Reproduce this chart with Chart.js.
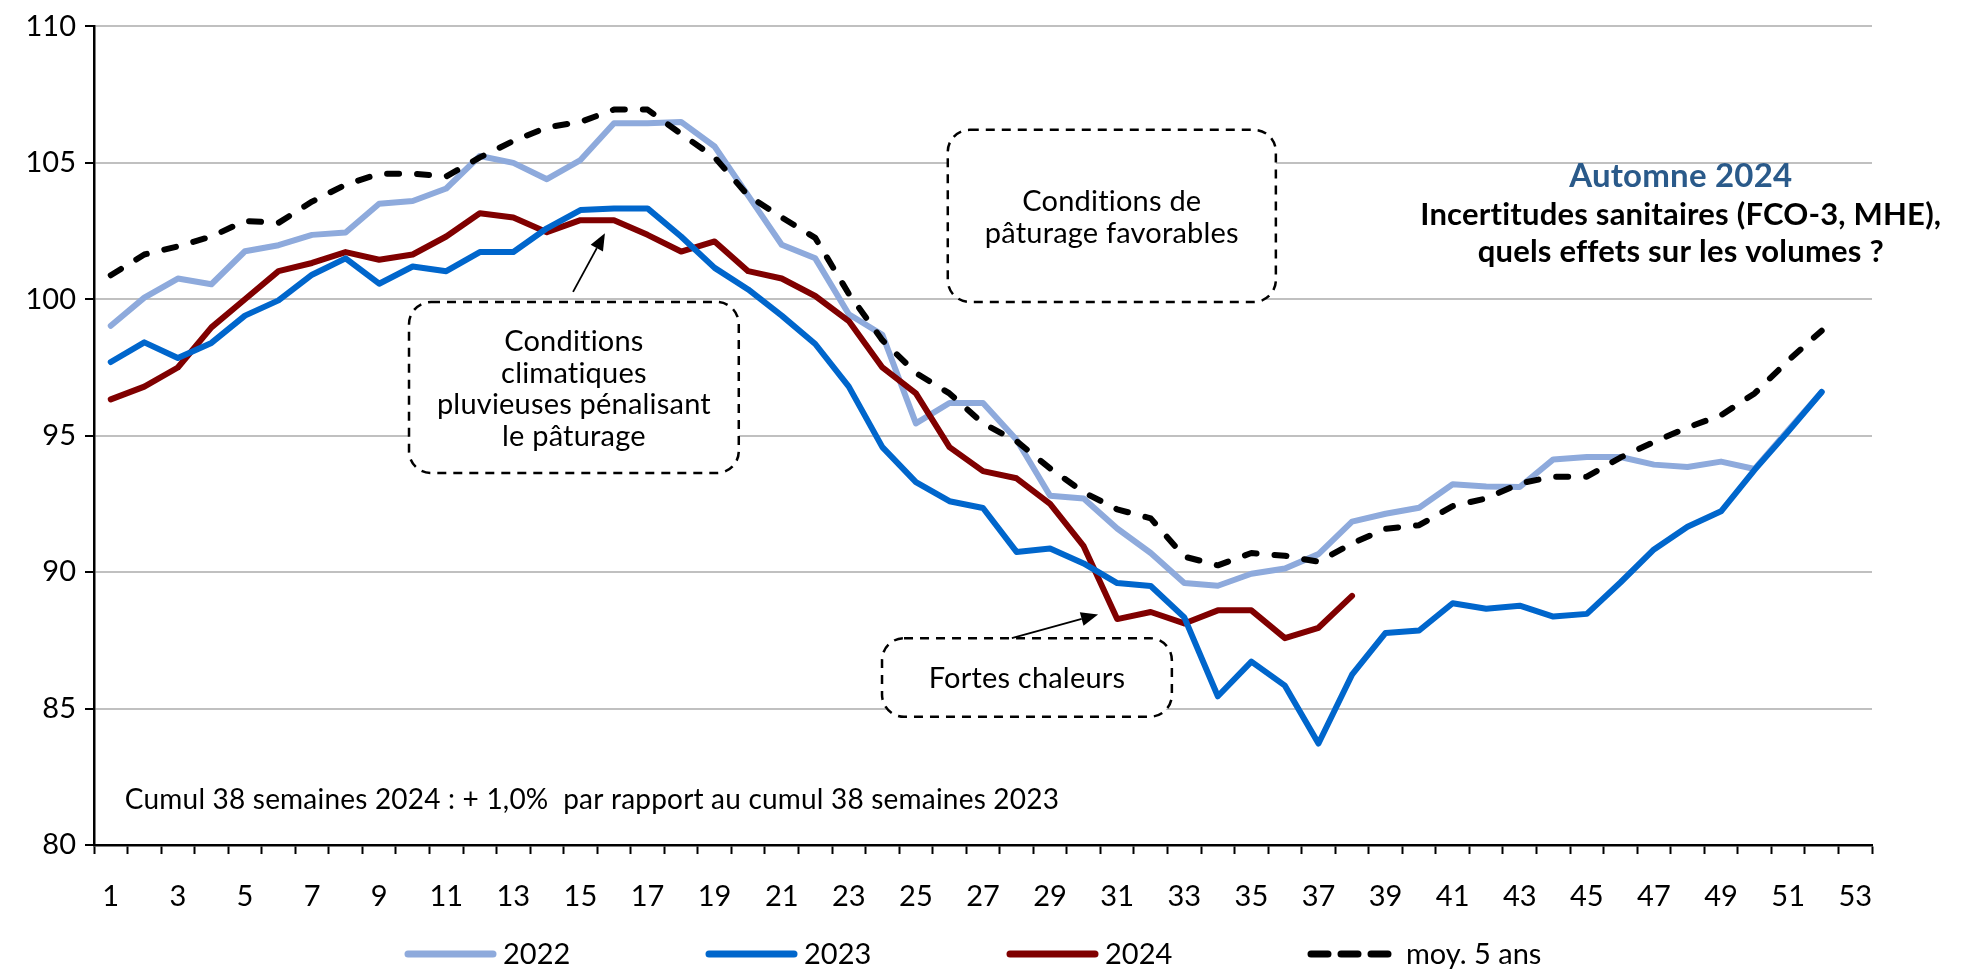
<!DOCTYPE html>
<html><head><meta charset="utf-8">
<script src="https://cdn.jsdelivr.net/npm/chart.js@4.4.1/dist/chart.umd.min.js"></script>
<style>html,body{margin:0;padding:0;background:#fff;}canvas{display:block}</style>
</head><body>
<canvas id="c" width="1961" height="972" style="width:1961px;height:972px"></canvas>
<script>
const weeks = ['1','2','3','4','5','6','7','8','9','10','11','12','13','14','15','16','17','18','19','20','21','22','23','24','25','26','27','28','29','30','31','32','33','34','35','36','37','38','39','40','41','42','43','44','45','46','47','48','49','50','51','52','53'];
const serie2022 = [99.03,100.06,100.76,100.55,101.76,101.98,102.36,102.45,103.5,103.6,104.06,105.25,105.0,104.4,105.1,106.45,106.45,106.5,105.6,103.8,102.0,101.5,99.45,98.7,95.45,96.2,96.2,94.85,92.8,92.7,91.6,90.7,89.6,89.5,89.94,90.13,90.66,91.85,92.14,92.36,93.22,93.14,93.12,94.13,94.22,94.22,93.94,93.85,94.05,93.78,95.2,96.6];
const serie2023 = [97.7,98.42,97.85,98.4,99.4,99.96,100.9,101.5,100.57,101.2,101.03,101.73,101.73,102.6,103.27,103.33,103.33,102.3,101.15,100.36,99.4,98.36,96.8,94.58,93.3,92.6,92.35,90.74,90.87,90.32,89.6,89.49,88.34,85.45,86.72,85.84,83.72,86.24,87.77,87.86,88.86,88.66,88.77,88.37,88.47,89.62,90.83,91.66,92.23,93.75,95.15,96.6];
const serie2024 = [96.33,96.8,97.5,98.97,100.0,101.03,101.33,101.73,101.45,101.64,102.3,103.15,103.0,102.46,102.9,102.9,102.36,101.75,102.12,101.03,100.76,100.12,99.2,97.5,96.55,94.58,93.7,93.44,92.5,90.95,88.28,88.54,88.12,88.6,88.6,87.58,87.96,89.13];
const moy5ans = [100.88,101.64,101.94,102.3,102.87,102.8,103.58,104.2,104.6,104.6,104.5,105.2,105.8,106.3,106.5,106.95,106.95,106.06,105.2,103.8,103.0,102.25,100.2,98.5,97.3,96.55,95.45,94.8,93.8,92.93,92.3,91.97,90.57,90.25,90.7,90.6,90.38,91.05,91.59,91.72,92.42,92.7,93.25,93.5,93.5,94.2,94.77,95.3,95.75,96.55,97.75,98.85];
const seriesNames = ['2022','2023','2024','moy. 5 ans'];
const yMin = 80, yMax = 110, yStep = 5;

const FONT = 'Lato, "Open Sans", sans-serif';

// annotations in data coordinates (category index, value)
const noteBoxes = [
  {x0: 8.89, x1: 18.72, y0: 99.9, y1: 93.63, lines: ['Conditions','climatiques','pluvieuses pénalisant','le pâturage']},
  {x0: 24.95, x1: 34.73, y0: 106.21, y1: 99.9, lines: ['Conditions de','pâturage favorables']},
  {x0: 22.99, x1: 31.63, y0: 87.58, y1: 84.70, lines: ['Fortes chaleurs']}
];
const noteArrows = [
  {x0: 13.78, y0: 100.27, x1: 14.73, y1: 102.42},
  {x0: 26.86, y0: 87.58, x1: 29.43, y1: 88.45}
];
const sideTitle = {x: 46.80, y: [104.5, 103.07, 101.72], lines: ['Automne 2024','Incertitudes sanitaires (FCO-3, MHE),','quels effets sur les volumes ?']};
const cumulNote = {x: 0.42, y: 81.64, text: 'Cumul 38 semaines 2024 : + 1,0%  par rapport au cumul 38 semaines 2023'};

function roundRect(ctx, x, y, w, h, r) {
  ctx.beginPath();
  ctx.moveTo(x + r, y);
  ctx.lineTo(x + w - r, y);
  ctx.arcTo(x + w, y, x + w, y + r, r);
  ctx.lineTo(x + w, y + h - r);
  ctx.arcTo(x + w, y + h, x + w - r, y + h, r);
  ctx.lineTo(x + r, y + h);
  ctx.arcTo(x, y + h, x, y + h - r, r);
  ctx.lineTo(x, y + r);
  ctx.arcTo(x, y, x + r, y, r);
  ctx.closePath();
}
function noLig(ctx) { if ('letterSpacing' in ctx) ctx.letterSpacing = '0.2px'; }

const annotPlugin = {
  id: 'annot',
  beforeDatasetsDraw(chart) {
    const ctx = chart.ctx, xs = chart.scales.x, ys = chart.scales.y;
    ctx.save();
    noteBoxes.forEach(b => {
      const x0 = xs.getPixelForValue(b.x0), x1 = xs.getPixelForValue(b.x1);
      const y0 = ys.getPixelForValue(b.y0), y1 = ys.getPixelForValue(b.y1);
      roundRect(ctx, x0, y0, x1 - x0, y1 - y0, 22);
      ctx.fillStyle = '#fff';
      ctx.fill();
      ctx.setLineDash([9, 7]);
      ctx.lineWidth = 2.5;
      ctx.strokeStyle = '#000';
      ctx.stroke();
      ctx.setLineDash([]);
      ctx.fillStyle = '#000';
      ctx.font = '29px ' + FONT;
      noLig(ctx);
      ctx.textAlign = 'center';
      ctx.textBaseline = 'middle';
      const lh = 31.6;
      const cy = (y0 + y1) / 2 + 1.5;
      const cx = (x0 + x1) / 2;
      b.lines.forEach((t, i) => {
        ctx.fillText(t, cx, cy + (i - (b.lines.length - 1) / 2) * lh);
      });
    });
    ctx.restore();
  },
  afterDatasetsDraw(chart) {
    const ctx = chart.ctx, xs = chart.scales.x, ys = chart.scales.y;
    ctx.save();
    noteArrows.forEach(a => {
      const x0 = xs.getPixelForValue(a.x0), y0 = ys.getPixelForValue(a.y0);
      const x1 = xs.getPixelForValue(a.x1), y1 = ys.getPixelForValue(a.y1);
      const ang = Math.atan2(y1 - y0, x1 - x0);
      const L = 17, W = 7;
      ctx.strokeStyle = '#000'; ctx.fillStyle = '#000'; ctx.lineWidth = 1.8;
      ctx.beginPath();
      ctx.moveTo(x0, y0);
      ctx.lineTo(x1 - L * Math.cos(ang), y1 - L * Math.sin(ang));
      ctx.stroke();
      ctx.beginPath();
      ctx.moveTo(x1, y1);
      ctx.lineTo(x1 - L * Math.cos(ang) + W * Math.sin(ang), y1 - L * Math.sin(ang) - W * Math.cos(ang));
      ctx.lineTo(x1 - L * Math.cos(ang) - W * Math.sin(ang), y1 - L * Math.sin(ang) + W * Math.cos(ang));
      ctx.closePath();
      ctx.fill();
    });
    // side title
    ctx.textAlign = 'center'; ctx.textBaseline = 'middle';
    noLig(ctx);
    const sx = xs.getPixelForValue(sideTitle.x);
    sideTitle.lines.forEach((t, i) => {
      ctx.font = 'bold ' + (i === 0 ? 33 : 31) + 'px ' + FONT;
      ctx.fillStyle = i === 0 ? '#2a5a8a' : '#000';
      ctx.fillText(t, sx, ys.getPixelForValue(sideTitle.y[i]));
    });
    // cumul note
    ctx.textAlign = 'left';
    ctx.font = '28px ' + FONT;
    ctx.fillStyle = '#000';
    ctx.fillText(cumulNote.text, xs.getPixelForValue(cumulNote.x), ys.getPixelForValue(cumulNote.y));
    ctx.restore();
  },
  afterDraw(chart) {
    // legend
    const ctx = chart.ctx;
    ctx.save();
    const startX = 405, step = 301, ly = 954, len = 88;
    chart.data.datasets.slice().sort((a, b) => seriesNames.indexOf(a.label) - seriesNames.indexOf(b.label)).forEach((ds, i) => {
      const x = startX + i * step;
      ctx.strokeStyle = ds.borderColor;
      ctx.lineWidth = 7;
      ctx.lineCap = 'round';
      ctx.setLineDash(ds.borderDash ? [17, 13] : []);
      ctx.beginPath();
      ctx.moveTo(x + 3, ly);
      ctx.lineTo(x + len, ly);
      ctx.stroke();
      ctx.setLineDash([]);
      ctx.fillStyle = '#000';
      ctx.font = '29px ' + FONT;
      ctx.textAlign = 'left';
      ctx.textBaseline = 'middle';
      ctx.fillText(ds.label, x + len + 10, ly + 1);
    });
    ctx.restore();
  }
};

const lineBase = {pointRadius: 0, pointHoverRadius: 0, tension: 0, borderWidth: 6, borderJoinStyle: 'round', borderCapStyle: 'round', fill: false};

new Chart(document.getElementById('c'), {
  type: 'line',
  data: {
    labels: weeks,
    datasets: [
      Object.assign({}, lineBase, {label: seriesNames[0], data: serie2022, borderColor: '#8eaadc', order: 3}),
      Object.assign({}, lineBase, {label: seriesNames[1], data: serie2023, borderColor: '#0066cc', order: 1}),
      Object.assign({}, lineBase, {label: seriesNames[2], data: serie2024, borderColor: '#800000', order: 2}),
      Object.assign({}, lineBase, {label: seriesNames[3], data: moy5ans, borderColor: '#000000', borderDash: [12, 18], order: 0})
    ]
  },
  options: {
    responsive: false,
    animation: false,
    devicePixelRatio: 1,
    layout: {padding: {left: 0, right: 89, top: 22, bottom: 0}},
    plugins: {legend: {display: false}, tooltip: {enabled: false}},
    scales: {
      x: {
        type: 'category',
        offset: true,
        grid: {offset: true, drawOnChartArea: false, drawTicks: true, tickLength: 9, tickColor: '#000', tickWidth: 2},
        border: {display: true, color: '#000', width: 2.5},
        ticks: {
          autoSkip: false, maxRotation: 0, minRotation: 0, padding: 25,
          color: '#000', font: {family: FONT, size: 29},
          callback: function(v, i) { return i % 2 === 0 ? weeks[i] : ''; }
        },
        afterFit: s => { s.height = 127; }
      },
      y: {
        min: yMin, max: yMax,
        grid: {
          color: c => (c.tick && c.tick.value === yMin) ? 'rgba(0,0,0,0)' : '#c0c0c0',
          lineWidth: 2, tickColor: '#000', tickLength: 9, tickWidth: 2
        },
        border: {display: true, color: '#000', width: 2.5},
        ticks: {stepSize: yStep, padding: 9, color: '#000', font: {family: FONT, size: 29}},
        afterFit: s => { s.width = 94; }
      }
    }
  },
  plugins: [annotPlugin]
});
</script>
</body></html>
